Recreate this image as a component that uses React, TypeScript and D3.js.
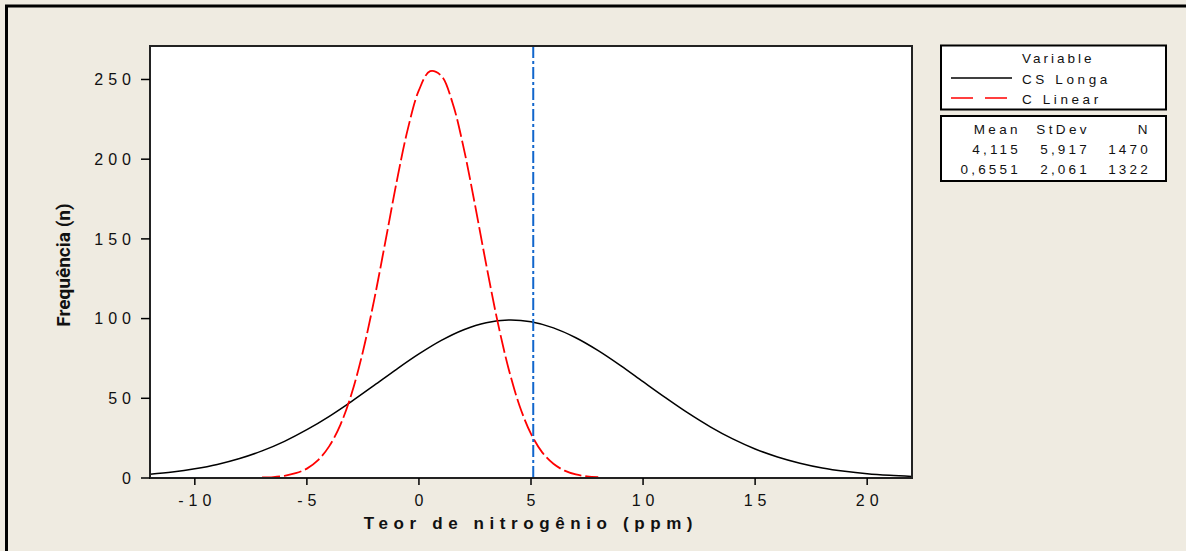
import React from "react";
import * as d3 from "d3";

const xTicks = [-10, -5, 0, 5, 10, 15, 20];
const yTicks = [0, 50, 100, 150, 200, 250];

const csLongaX = [-12, -11, -10, -9, -8, -7, -6, -5, -4, -3, -2, -1, 0, 1, 2, 3, 4, 5, 6, 7, 8, 9, 10, 11, 12, 13, 14, 15, 16, 17, 18, 19, 20, 21, 22];
const csLongaY = [2.4, 3.8, 5.8, 8.5, 12.2, 17.0, 23.0, 30.3, 38.7, 48.1, 58.1, 68.2, 77.8, 86.3, 93.0, 97.4, 99.1, 98.0, 94.2, 88.0, 79.9, 70.5, 60.4, 50.4, 40.8, 32.1, 24.5, 18.2, 13.2, 9.3, 6.3, 4.2, 2.7, 1.7, 1.0];

const cLinearX = [-7, -6.5, -6, -5.5, -5, -4.5, -4, -3.5, -3, -2.5, -2, -1.5, -1, -0.5, 0, 0.5, 1, 1.5, 2, 2.5, 3, 3.5, 4, 4.5, 5, 5.5, 6, 6.5, 7, 7.5, 8];
const cLinearY = [0.3, 0.6, 1.4, 3.0, 5.9, 11.2, 20.0, 33.5, 53.1, 79.3, 111.6, 148.1, 185.4, 218.7, 243.3, 255.2, 252.3, 235.3, 206.8, 171.4, 134.0, 98.7, 68.6, 44.9, 27.7, 16.1, 8.9, 4.6, 2.2, 1.0, 0.5];

const refLineX = 5.1;

const legendSeries = ["CS Longa", "C Linear"];
const statHeaders = ["Mean", "StDev", "N"];
const statRows = [
  ["4,115", "5,917", "1470"],
  ["0,6551", "2,061", "1322"],
];

const W = 1186;
const H = 551;
const L = 150, R = 912, T = 46, B = 478;
const BG = "#EFEBE1";
const FONT = "'Liberation Sans', Arial, sans-serif";

export default function App() {
  const x = d3.scaleLinear().domain([-12, 22]).range([L, R]);
  const y = d3.scaleLinear().domain([0, 271]).range([B, T]);
  const line = d3
    .line<[number, number]>()
    .x((d) => x(d[0]))
    .y((d) => y(d[1]))
    .curve(d3.curveCatmullRom);
  const csPts = csLongaX.map((v, i) => [v, csLongaY[i]] as [number, number]);
  const clPts = cLinearX.map((v, i) => [v, cLinearY[i]] as [number, number]);

  const colX = [1018, 1087, 1148];

  return (
    <svg
      width={W}
      height={H}
      style={{ position: "absolute", left: 0, top: 0, display: "block" }}
      fontFamily={FONT}
    >
      <rect x={0} y={0} width={W} height={H} fill={BG} />
      {/* outer border top & left */}
      <line x1={5} y1={6} x2={W} y2={6} stroke="#000" strokeWidth={3} />
      <line x1={6.5} y1={5} x2={6.5} y2={H} stroke="#000" strokeWidth={3} />

      {/* plot area */}
      <rect x={L} y={T} width={R - L} height={B - T} fill="#fff" stroke="none" />
      <defs>
        <clipPath id="plotclip">
          <rect x={L} y={T} width={R - L} height={B - T} />
        </clipPath>
      </defs>
      <g clipPath="url(#plotclip)">
        <path d={line(csPts) || ""} fill="none" stroke="#000" strokeWidth={1.5} />
        <path
          d={line(clPts) || ""}
          fill="none"
          stroke="#FF0000"
          strokeWidth={1.8}
          strokeDasharray="18,4"
        />
        <line
          x1={x(refLineX)}
          x2={x(refLineX)}
          y1={T}
          y2={B}
          stroke="#1166CC"
          strokeWidth={2}
          strokeDasharray="12,3,3,3"
        />
      </g>
      <rect x={L} y={T} width={R - L} height={B - T} fill="none" stroke="#222" strokeWidth={2} />

      {/* y axis */}
      {yTicks.map((t) => (
        <g key={"y" + t}>
          <line x1={L - 9} x2={L} y1={y(t)} y2={y(t)} stroke="#000" strokeWidth={1.5} />
          <text
            x={L - 14}
            y={y(t)}
            dy="0.36em"
            textAnchor="end"
            fontSize={16}
            fill="#111"
            style={{ letterSpacing: "5px" }}
          >
            {String(t)}
          </text>
        </g>
      ))}
      {/* x axis */}
      {xTicks.map((t) => (
        <g key={"x" + t}>
          <line x1={x(t)} x2={x(t)} y1={B} y2={B + 7} stroke="#000" strokeWidth={1.5} />
          <text
            x={x(t) + 2.5}
            y={B + 28}
            textAnchor="middle"
            fontSize={16}
            fill="#111"
            style={{ letterSpacing: "5px" }}
          >
            {String(t)}
          </text>
        </g>
      ))}

      <text
        x={531}
        y={529}
        textAnchor="middle"
        fontSize={17}
        fontWeight="bold"
        fill="#111"
        style={{ letterSpacing: "5.6px" }}
      >
        Teor de nitrogênio (ppm)
      </text>
      <text
        transform={`translate(70,265) rotate(-90)`}
        textAnchor="middle"
        fontSize={19}
        fontWeight="bold"
        fill="#111"
        fontFamily="Roboto, 'Liberation Sans', sans-serif"
      >
        Frequência (n)
      </text>

      {/* legend box 1 */}
      <rect x={941} y={45.5} width={225} height={64} fill="#fff" stroke="#000" strokeWidth={2} />
      <text x={1022} y={63} fontSize={13.5} fill="#111" style={{ letterSpacing: "3px" }}>
        Variable
      </text>
      <line x1={951} x2={1012} y1={78} y2={78} stroke="#000" strokeWidth={1.5} />
      <line x1={951} x2={1012} y1={98} y2={98} stroke="#FF0000" strokeWidth={1.5} strokeDasharray="22,12" />
      {legendSeries.map((s, i) => (
        <text
          key={s}
          x={1022}
          y={84 + i * 20}
          fontSize={13.5}
          fill="#111"
          style={{ letterSpacing: "3.6px", whiteSpace: "pre" }}
        >
          {s}
        </text>
      ))}

      {/* legend box 2 */}
      <rect x={941} y={116} width={225} height={65} fill="#fff" stroke="#000" strokeWidth={2} />
      {statHeaders.map((h, i) => (
        <text
          key={h}
          x={colX[i] + 3}
          y={134}
          textAnchor="end"
          fontSize={13.5}
          fill="#111"
          style={{ letterSpacing: "3.4px" }}
        >
          {h}
        </text>
      ))}
      {statRows.map((row, r) =>
        row.map((v, i) => (
          <text
            key={r + "-" + i}
            x={colX[i] + 3}
            y={154 + r * 20}
            textAnchor="end"
            fontSize={13.5}
            fill="#111"
            style={{ letterSpacing: "3.2px" }}
          >
            {v}
          </text>
        ))
      )}
    </svg>
  );
}
